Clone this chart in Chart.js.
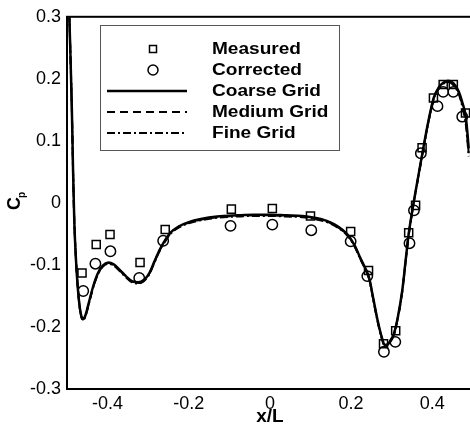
<!DOCTYPE html>
<html>
<head>
<meta charset="utf-8">
<script src="https://cdn.jsdelivr.net/npm/chart.js@4/dist/chart.umd.min.js"></script>
<style>
  html, body { margin: 0; padding: 0; background: #fff; overflow: hidden; }
  #wrap { width: 480px; height: 433px; }
</style>
</head>
<body>
<div id="wrap"><canvas id="cp" width="480" height="433"></canvas></div>
<script>
// measured points (squares)
const measX = [-0.463, -0.428, -0.394, -0.320, -0.258, -0.095, 0.006, 0.100, 0.199, 0.243, 0.280, 0.310, 0.342, 0.359, 0.375, 0.403, 0.427, 0.452, 0.482]
const measY = [-0.113, -0.067, -0.051, -0.096, -0.043, -0.010, -0.009, -0.021, -0.046, -0.109, -0.227, -0.206, -0.048, -0.004, 0.089, 0.169, 0.191, 0.191, 0.145]

// corrected points (circles)
const corrX = [-0.460, -0.430, -0.393, -0.322, -0.263, -0.097, 0.006, 0.102, 0.199, 0.240, 0.281, 0.309, 0.344, 0.355, 0.372, 0.413, 0.427, 0.452, 0.474]
const corrY = [-0.142, -0.098, -0.078, -0.121, -0.061, -0.037, -0.035, -0.044, -0.062, -0.118, -0.240, -0.224, -0.065, -0.012, 0.080, 0.156, 0.179, 0.179, 0.139]

// CFD curves, same x stations
const curveX = [-0.496, -0.492, -0.488, -0.485, -0.482, -0.478, -0.473, -0.467, -0.461, -0.455, -0.447, -0.437, -0.425, -0.412, -0.398, -0.385, -0.370, -0.355, -0.340, -0.325, -0.310, -0.297, -0.285, -0.272, -0.260, -0.245, -0.225, -0.200, -0.170, -0.130, -0.080, -0.040, 0.000, 0.040, 0.080, 0.110, 0.140, 0.160, 0.180, 0.195, 0.210, 0.223, 0.235, 0.245, 0.255, 0.265, 0.275, 0.283, 0.290, 0.297, 0.305, 0.315, 0.326, 0.335, 0.341, 0.350, 0.358, 0.367, 0.376, 0.390, 0.404, 0.416, 0.428, 0.440, 0.452, 0.465, 0.475, 0.483, 0.490]
const coarseY = [0.34, 0.25, 0.15, 0.05, -0.03, -0.09, -0.14, -0.175, -0.187, -0.182, -0.163, -0.138, -0.115, -0.101, -0.096, -0.099, -0.108, -0.118, -0.126, -0.128, -0.124, -0.113, -0.095, -0.076, -0.062, -0.048, -0.038, -0.031, -0.026, -0.022, -0.020, -0.019, -0.019, -0.020, -0.021, -0.024, -0.029, -0.035, -0.044, -0.054, -0.070, -0.089, -0.105, -0.122, -0.155, -0.188, -0.215, -0.229, -0.228, -0.222, -0.212, -0.185, -0.142, -0.090, -0.055, -0.016, 0.015, 0.048, 0.081, 0.130, 0.170, 0.186, 0.194, 0.197, 0.193, 0.180, 0.160, 0.138, 0.088]
const mediumY = [0.34, 0.25, 0.15, 0.05, -0.03, -0.09, -0.14, -0.176, -0.188, -0.183, -0.164, -0.139, -0.116, -0.102, -0.097, -0.100, -0.109, -0.119, -0.127, -0.129, -0.125, -0.114, -0.096, -0.077, -0.063, -0.049, -0.039, -0.032, -0.027, -0.023, -0.021, -0.020, -0.020, -0.021, -0.022, -0.025, -0.030, -0.036, -0.045, -0.055, -0.071, -0.090, -0.106, -0.123, -0.156, -0.189, -0.216, -0.230, -0.229, -0.223, -0.213, -0.186, -0.143, -0.091, -0.056, -0.017, 0.014, 0.047, 0.080, 0.129, 0.169, 0.185, 0.193, 0.196, 0.192, 0.178, 0.156, 0.130, 0.080]
const fineY = [0.34, 0.25, 0.15, 0.05, -0.03, -0.09, -0.14, -0.176, -0.189, -0.184, -0.165, -0.140, -0.117, -0.103, -0.098, -0.101, -0.110, -0.120, -0.128, -0.130, -0.126, -0.115, -0.097, -0.078, -0.064, -0.050, -0.040, -0.033, -0.028, -0.024, -0.022, -0.021, -0.021, -0.022, -0.023, -0.026, -0.031, -0.037, -0.046, -0.056, -0.072, -0.091, -0.107, -0.124, -0.157, -0.190, -0.217, -0.231, -0.230, -0.224, -0.214, -0.187, -0.144, -0.092, -0.057, -0.018, 0.013, 0.046, 0.079, 0.128, 0.168, 0.184, 0.192, 0.195, 0.190, 0.176, 0.153, 0.125, 0.075]

const xTicks = [-0.4, -0.2, 0, 0.2, 0.4]
const yTicks = [-0.3, -0.2, -0.1, 0, 0.1, 0.2, 0.3]
const labels = ["Measured", "Corrected", "Coarse Grid", "Medium Grid", "Fine Grid"]

const pts = (xs, ys) => xs.map((x, i) => ({ x: x, y: ys[i] }))
const fmt = v => String(Math.round(v * 10) / 10)
const FONT = "'Liberation Sans', Arial, sans-serif"

// frame round the plot area
const frame = {
  id: "frame",
  afterDraw(chart) {
    const { ctx, chartArea: a } = chart
    ctx.save()
    ctx.strokeStyle = "#000"
    ctx.lineWidth = 2
    ctx.strokeRect(a.left, a.top, a.right - a.left, a.bottom - a.top)
    ctx.restore()
  }
}

// rotated "Cp" with subscript
const yTitle = {
  id: "yTitle",
  afterDraw(chart) {
    const ctx = chart.ctx
    ctx.save()
    ctx.translate(20, 210)
    ctx.rotate(-Math.PI / 2)
    ctx.fillStyle = "#000"
    ctx.textBaseline = "alphabetic"
    ctx.font = "bold 18px " + FONT
    ctx.fillText("C", 0, 0)
    const w = ctx.measureText("C").width
    ctx.font = "bold 10px " + FONT
    ctx.fillText("p", w - 1, 5)
    ctx.restore()
  }
}

// boxed legend inside the plot
const boxLegend = {
  id: "boxLegend",
  afterDraw(chart) {
    const ctx = chart.ctx
    const bx = 100, by = 25, bw = 239, bh = 125
    ctx.save()
    ctx.fillStyle = "#fff"
    ctx.fillRect(bx, by, bw, bh)
    ctx.strokeStyle = "#555"
    ctx.lineWidth = 1
    ctx.strokeRect(bx + 0.5, by + 0.5, bw, bh)
    const rows = [49, 70, 91, 112, 133]
    chart.data.datasets.forEach((ds, i) => {
      const y = rows[i]
      ctx.strokeStyle = "#000"
      ctx.setLineDash([])
      if (ds.showLine === false) {
        ctx.lineWidth = 1.5
        if (ds.pointStyle === "rect") ctx.strokeRect(149.5, y - 3.5, 7, 7)
        else { ctx.beginPath(); ctx.arc(153, y, 5, 0, Math.PI * 2); ctx.stroke() }
      } else {
        ctx.lineWidth = ds.borderWidth
        ctx.setLineDash(ds.borderDash || [])
        ctx.beginPath(); ctx.moveTo(107, y); ctx.lineTo(187, y); ctx.stroke()
      }
      ctx.setLineDash([])
      ctx.fillStyle = "#000"
      ctx.font = "bold 16px " + FONT
      ctx.textBaseline = "middle"
      ctx.save()
      ctx.translate(212, y)
      ctx.scale(1.19, 1)
      ctx.fillText(ds.label, 0, 1)
      ctx.restore()
    })
    ctx.restore()
  }
}

new Chart(document.getElementById("cp").getContext("2d"), {
  type: "scatter",
  data: {
    datasets: [
      { label: labels[0], data: pts(measX, measY), showLine: false, pointStyle: "rect",
        pointRadius: 5.7, pointBorderWidth: 1.5, pointBorderColor: "#000", pointBackgroundColor: "rgba(255,255,255,0)", order: 0 },
      { label: labels[1], data: pts(corrX, corrY), showLine: false, pointStyle: "circle",
        pointRadius: 5.2, pointBorderWidth: 1.5, pointBorderColor: "#000", pointBackgroundColor: "rgba(255,255,255,0)", order: 0 },
      { label: labels[2], data: pts(curveX, coarseY), showLine: true, pointRadius: 0,
        borderColor: "#000", borderWidth: 2.5, cubicInterpolationMode: "monotone", order: 1 },
      { label: labels[3], data: pts(curveX, mediumY), showLine: true, pointRadius: 0,
        borderColor: "#000", borderWidth: 2, borderDash: [8, 5], cubicInterpolationMode: "monotone", order: 2 },
      { label: labels[4], data: pts(curveX, fineY), showLine: true, pointRadius: 0,
        borderColor: "#000", borderWidth: 2, borderDash: [8, 3, 2, 3], cubicInterpolationMode: "monotone", order: 3 }
    ]
  },
  options: {
    responsive: false,
    animation: false,
    // canvas is a bit wider than the window so the right frame edge falls just outside, as in the source
    layout: { padding: { left: 0, right: 1, top: 13, bottom: 0 } },
    plugins: { legend: { display: false }, tooltip: { enabled: false } },
    scales: {
      x: {
        type: "linear", min: -0.5, max: 0.5,
        grid: { display: false, drawTicks: false }, border: { display: false },
        afterBuildTicks: s => { s.ticks = xTicks.map(v => ({ value: v })) },
        afterFit: s => { s.height = 44 },
        ticks: { padding: 4, color: "#000", callback: fmt, font: { family: FONT, size: 18 } },
        title: { display: true, text: "x/L", color: "#000", padding: { top: 0, bottom: 5 },
          font: { family: FONT, size: 19, weight: "bold" } }
      },
      y: {
        type: "linear", min: -0.3, max: 0.3,
        grid: { display: false, drawTicks: false }, border: { display: false },
        afterBuildTicks: s => { s.ticks = yTicks.map(v => ({ value: v })) },
        afterFit: s => { s.width = 67 },
        ticks: { padding: 6, color: "#000", callback: fmt, font: { family: FONT, size: 18 } }
      }
    }
  },
  plugins: [frame, yTitle, boxLegend]
})
</script>
</body>
</html>
